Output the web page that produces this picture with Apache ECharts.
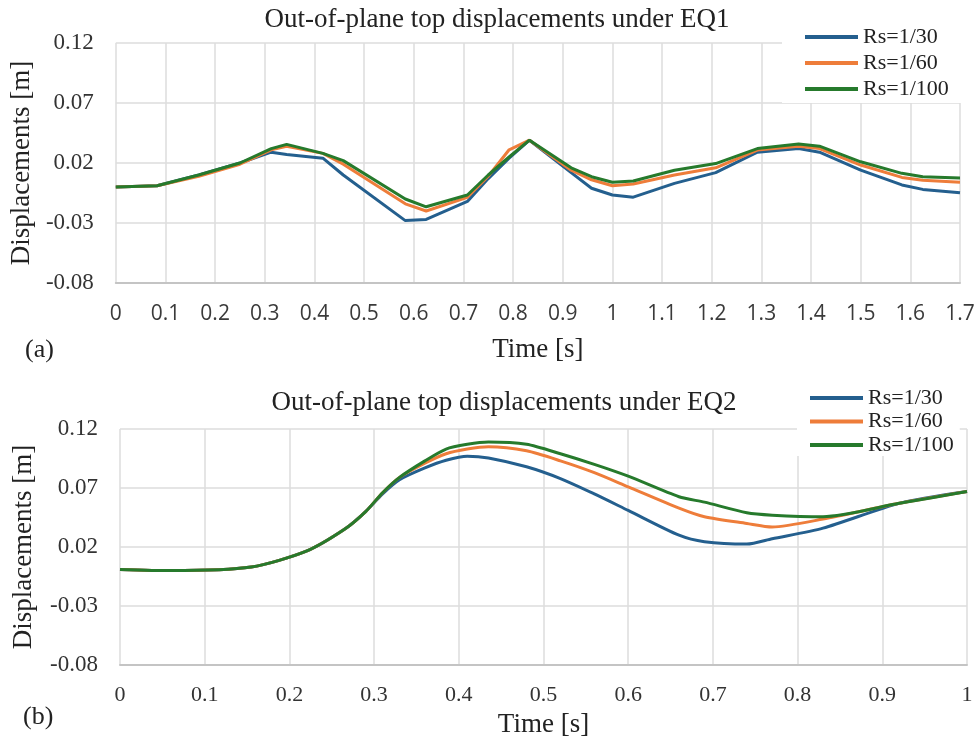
<!DOCTYPE html>
<html>
<head>
<meta charset="utf-8">
<script src="https://cdn.jsdelivr.net/npm/echarts@6/dist/echarts.min.js"></script>
<style>
  html, body { margin: 0; padding: 0; background: #fff; }
  #chart { width: 979px; height: 741px; }
</style>
</head>
<body>
<div id="chart"></div>
<script>
// EQ1 (a)
const timeA = [0, 0.083, 0.167, 0.25, 0.313, 0.344, 0.417, 0.458, 0.583, 0.625, 0.708, 0.75, 0.792, 0.833, 0.917, 0.958, 1.0, 1.042, 1.125, 1.208, 1.292, 1.375, 1.417, 1.5, 1.583, 1.625, 1.7];
const rs30A = [0, 0.001, 0.010, 0.020, 0.029, 0.027, 0.024, 0.010, -0.028, -0.027, -0.012, 0.007, 0.024, 0.039, 0.012, -0.001, -0.0067, -0.0085, 0.003, 0.012, 0.029, 0.032, 0.029, 0.014, 0.0017, -0.002, -0.0048];
const rs60A = [0, 0.001, 0.009, 0.019, 0.031, 0.034, 0.028, 0.019, -0.014, -0.020, -0.0086, 0.009, 0.031, 0.039, 0.014, 0.006, 0.001, 0.0025, 0.010, 0.016, 0.0308, 0.034, 0.032, 0.0183, 0.008, 0.0056, 0.004];
const rs100A = [0, 0.001, 0.010, 0.020, 0.032, 0.0355, 0.028, 0.022, -0.010, -0.0165, -0.0067, 0.010, 0.025, 0.039, 0.016, 0.0086, 0.004, 0.005, 0.014, 0.0195, 0.032, 0.0358, 0.034, 0.021, 0.0114, 0.0086, 0.0075];

// EQ2 (b)
const timeB = [0, 0.06, 0.155, 0.22, 0.265, 0.29, 0.31, 0.33, 0.36, 0.385, 0.41, 0.435, 0.48, 0.52, 0.56, 0.6, 0.66, 0.69, 0.74, 0.77, 0.83, 0.92, 1.0];
const rs30B = [0.001, 0.0, 0.003, 0.0165, 0.035, 0.050, 0.065, 0.077, 0.087, 0.0935, 0.097, 0.0955, 0.088, 0.078, 0.065, 0.051, 0.030, 0.0245, 0.0225, 0.027, 0.036, 0.057, 0.067];
const rs60B = [0.001, 0.0, 0.003, 0.0165, 0.035, 0.050, 0.066, 0.079, 0.091, 0.099, 0.103, 0.105, 0.1015, 0.093, 0.083, 0.071, 0.053, 0.0457, 0.040, 0.037, 0.0437, 0.057, 0.067];
const rs100B = [0.001, 0.0, 0.003, 0.0165, 0.035, 0.050, 0.066, 0.079, 0.093, 0.103, 0.107, 0.109, 0.107, 0.099, 0.090, 0.080, 0.0626, 0.058, 0.049, 0.047, 0.0457, 0.057, 0.067];

const seriesNames = ['Rs=1/30', 'Rs=1/60', 'Rs=1/100'];
const colors = ['#245f8e', '#ee7d3a', '#267a2c'];

const serif = '"Liberation Serif", "Times New Roman", serif';
const gridLine = { lineStyle: { color: '#dcdcdc', width: 1.5 } };

function pairs(times, values) {
  return times.map((t, i) => [t, values[i]]);
}

function yAxisFor(gridIndex, gap) {
  return {
    type: 'value', gridIndex, min: -0.08, max: 0.12, interval: 0.05,
    name: 'Displacements [m]', nameLocation: 'middle', nameGap: gap,
    nameTextStyle: { fontFamily: serif, fontSize: 27, color: '#222' },
    axisLine: { show: false }, axisTick: { show: false },
    axisLabel: { fontFamily: serif, fontSize: 23, color: '#333', margin: 22, formatter: v => v.toFixed(2) },
    splitLine: gridLine
  };
}

function lineSeries(name, idx, axisIndex, data, smooth) {
  return {
    name, type: 'line', xAxisIndex: axisIndex, yAxisIndex: axisIndex,
    symbol: 'none', data, color: colors[idx], smooth,
    lineStyle: { width: 3, color: colors[idx] }
  };
}

const chart = echarts.init(document.getElementById('chart'));
chart.setOption({
  animation: false,
  backgroundColor: '#fff',
  title: [
    { text: 'Out-of-plane top displacements under EQ1', left: 497, top: 6, textAlign: 'center', padding: 0,
      textStyle: { fontFamily: serif, fontSize: 27, fontWeight: 'normal', color: '#222' } },
    { text: 'Out-of-plane top displacements under EQ2', left: 504, top: 389, textAlign: 'center', padding: 0,
      textStyle: { fontFamily: serif, fontSize: 27, fontWeight: 'normal', color: '#222' } }
  ],
  legend: [
    { data: seriesNames.map(n => ({ name: n })), orient: 'vertical', left: 782, top: 16,
      padding: [10, 14, 3, 23], itemGap: 4, itemWidth: 53, itemHeight: 4, icon: 'rect',
      backgroundColor: '#fff', textStyle: { fontFamily: serif, fontSize: 22, color: '#222' },
      selectedMode: false },
    { data: seriesNames.map(n => ({ name: n })), orient: 'vertical', left: 797, top: 377,
      padding: [10, 6, 0, 13], itemGap: 1.5, itemWidth: 53, itemHeight: 4, icon: 'rect',
      backgroundColor: '#fff', textStyle: { fontFamily: serif, fontSize: 22, color: '#222' },
      selectedMode: false }
  ],
  grid: [
    { left: 113, right: 19, top: 43, height: 240 },
    { left: 120, right: 12, top: 429, height: 236 }
  ],
  xAxis: [
    { type: 'value', gridIndex: 0, min: 0, max: 1.7, interval: 0.1,
      name: 'Time [s]', nameLocation: 'middle', nameGap: 53,
      nameTextStyle: { fontFamily: serif, fontSize: 27, color: '#222' },
      axisLine: { onZero: false, lineStyle: { color: '#c4c4c4', width: 2 } }, axisTick: { show: false },
      axisLabel: { fontFamily: '"Open Sans", sans-serif', fontSize: 21, color: '#3a3a3a', margin: 21,
        formatter: v => String(+v.toFixed(1)) },
      splitLine: gridLine },
    { type: 'value', gridIndex: 1, min: 0, max: 1, interval: 0.1,
      name: 'Time [s]', nameLocation: 'middle', nameGap: 46,
      nameTextStyle: { fontFamily: serif, fontSize: 27, color: '#222' },
      axisLine: { onZero: false, lineStyle: { color: '#c4c4c4', width: 2 } }, axisTick: { show: false },
      axisLabel: { fontFamily: serif, fontSize: 22, color: '#333', margin: 19,
        formatter: v => String(+v.toFixed(1)) },
      splitLine: gridLine }
  ],
  yAxis: [yAxisFor(0, 80), yAxisFor(1, 83)],
  graphic: [
    { type: 'text', style: { text: '(a)', x: 25, y: 350, verticalAlign: 'middle', font: '26px ' + serif, fill: '#222' } },
    { type: 'text', style: { text: '(b)', x: 23, y: 717, verticalAlign: 'middle', font: '26px ' + serif, fill: '#222' } }
  ],
  series: [
    lineSeries(seriesNames[0], 0, 0, pairs(timeA, rs30A), false),
    lineSeries(seriesNames[1], 1, 0, pairs(timeA, rs60A), false),
    lineSeries(seriesNames[2], 2, 0, pairs(timeA, rs100A), false),
    lineSeries(seriesNames[0], 0, 1, pairs(timeB, rs30B), 0.25),
    lineSeries(seriesNames[1], 1, 1, pairs(timeB, rs60B), 0.25),
    lineSeries(seriesNames[2], 2, 1, pairs(timeB, rs100B), 0.25)
  ]
});
</script>
</body>
</html>
